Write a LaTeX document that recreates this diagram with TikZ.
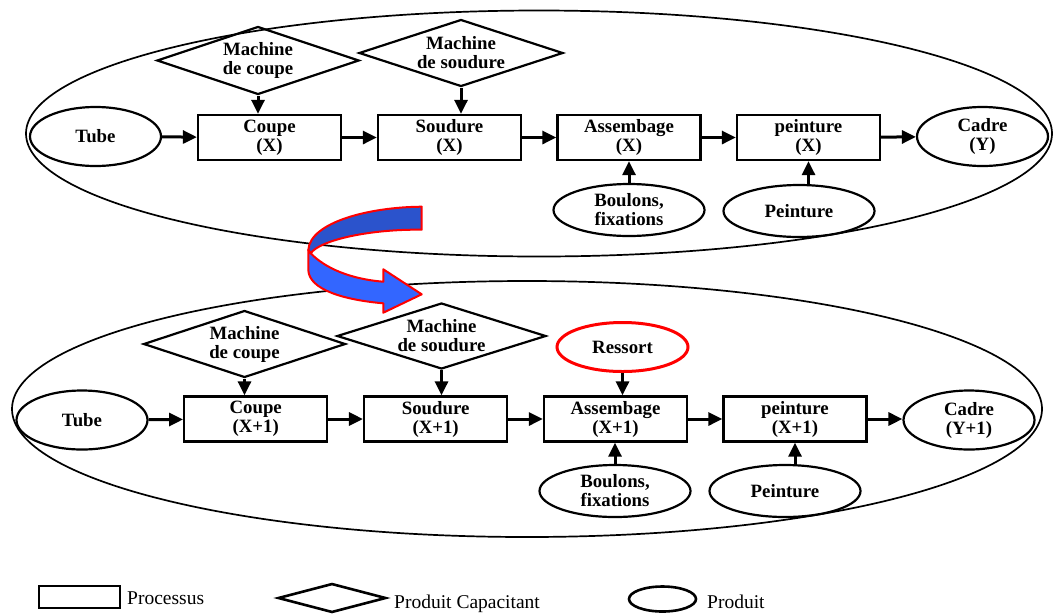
\documentclass[tikz,border=0pt]{standalone}
\usepackage{fontspec}
\setmainfont{Liberation Serif}
\usetikzlibrary{shapes.geometric,arrows.meta}
\definecolor{ribbondark}{RGB}{43,83,204}
\definecolor{ribbonlight}{RGB}{51,102,255}
\definecolor{ribbonedge}{RGB}{255,0,0}
\begin{document}
\begin{tikzpicture}[x=1pt,y=-1pt,
  lbl/.style={font=\bfseries\fontsize{18.8}{19}\selectfont, align=center, inner sep=0pt},
  procbox/.style={lbl, draw, line width=2.3pt, minimum width=143pt, minimum height=45pt},
  prodell/.style={lbl, draw, ellipse, line width=2.2pt, minimum width=131pt, minimum height=59pt},
  inell/.style={lbl, draw, ellipse, line width=2.2pt, minimum width=151pt, minimum height=52pt},
  capdia/.style={lbl, draw, diamond, shape aspect=3, line width=2.2pt},
  conn/.style={line width=3pt, -{Triangle[length=14pt,width=13pt]}},
  group/.style={line width=1.7pt},
  legtxt/.style={font=\fontsize{19.5}{20}\selectfont, inner sep=0pt, anchor=base west},
  legshape/.style={draw, line width=2.6pt, inner sep=0pt}
]
\useasboundingbox (0,0) rectangle (1054,614);

% ---- lot X ----
\draw[group] (539,133.5) ellipse [x radius=513pt, y radius=123pt];

\node[prodell] (tube1) at (95.5,136.5) {Tube};
\node[procbox] (coupe1) at (269.5,137.5) {Coupe\\(X)};
\node[procbox] (soud1) at (449.5,137.5) {Soudure\\(X)};
\node[procbox] (asm1) at (629,137.5) {Assembage\\(X)};
\node[procbox] (peint1) at (808.5,137.5) {peinture\\(X)};
\node[prodell] (cadre1) at (982.5,136.5) {Cadre\\(Y)};

\node[capdia, minimum width=202pt, minimum height=68pt] (mcoupe1) at (258,60.5) {Machine\\de coupe};
\node[capdia, minimum width=204pt, minimum height=67pt] (msoud1) at (461,53) {Machine\\de soudure};

\node[inell] (boul1) at (629,210) {Boulons,\\fixations};
\node[inell] (pt1) at (799,211) {Peinture};

\draw[conn] (tube1) -- (coupe1);
\draw[conn] (coupe1) -- (soud1);
\draw[conn] (soud1) -- (asm1);
\draw[conn] (asm1) -- (peint1);
\draw[conn] (peint1) -- (cadre1);
\draw[conn] (mcoupe1.south) -- (mcoupe1.south |- coupe1.north);
\draw[conn] (msoud1.south) -- (msoud1.south |- soud1.north);
\draw[conn] (boul1.north) -- (asm1.south);
\draw[conn] (peint1.south |- pt1.north) -- (peint1.south);

% ---- lot X+1 ----
\draw[group] (527,409) ellipse [x radius=515pt, y radius=128pt];

\node[prodell] (tube2) at (82,420) {Tube};
\node[procbox] (coupe2) at (255.7,419) {Coupe\\(X+1)};
\node[procbox] (soud2) at (435.6,419) {Soudure\\(X+1)};
\node[procbox] (asm2) at (615.5,419) {Assembage\\(X+1)};
\node[procbox] (peint2) at (795,419) {peinture\\(X+1)};
\node[prodell] (cadre2) at (969,420) {Cadre\\(Y+1)};

\node[capdia, minimum width=202pt, minimum height=67pt] (mcoupe2) at (244.5,344) {Machine\\de coupe};
\node[capdia, minimum width=209pt, minimum height=66pt] (msoud2) at (441.5,336) {Machine\\de soudure};

\node[lbl, draw=red, ellipse, line width=3pt, minimum width=131pt, minimum height=49pt] (ress) at (622.5,347) {Ressort};

\node[inell] (boul2) at (615,491) {Boulons,\\fixations};
\node[inell] (pt2) at (785,491) {Peinture};

\draw[conn] (tube2) -- (coupe2);
\draw[conn] (coupe2) -- (soud2);
\draw[conn] (soud2) -- (asm2);
\draw[conn] (asm2) -- (peint2);
\draw[conn] (peint2.east) -- (peint2.east -| cadre2.west);
\draw[conn] (mcoupe2.south) -- (mcoupe2.south |- coupe2.north);
\draw[conn] (msoud2.south) -- (msoud2.south |- soud2.north);
\draw[conn] (ress.south) -- (ress.south |- asm2.north);
\draw[conn] (boul2.north) -- (boul2.north |- asm2.south);
\draw[conn] (peint2.south |- pt2.north) -- (peint2.south);

% ---- curled transition arrow ----
\begin{scope}[line width=2pt, draw=ribbonedge, line join=round]
  \filldraw[fill=ribbondark] (421.7,206.7) .. controls (370,207) and (310,222) .. (308.3,250)
    -- (310.7,253.3) .. controls (320,240) and (370,229) .. (421.7,229.7) -- cycle;
  \filldraw[fill=ribbonlight] (310.7,253.3) .. controls (325,268) and (350,279) .. (383.3,281.7)
    -- (383.3,269.3) -- (421.7,294.3) -- (383.3,312.7) -- (383.3,303.3)
    .. controls (345,300) and (309,290) .. (308.3,270) -- (308.3,250) -- cycle;
\end{scope}

% ---- legend ----
\node[legshape, minimum width=81pt, minimum height=22pt] (lgproc) at (79.5,597) {};
\node[legtxt] (lgproct) at (127,604) {Processus};
\node[legshape, diamond, minimum width=108pt, minimum height=29pt] (lgcap) at (332,598) {};
\node[legtxt] (lgcapt) at (394,608) {Produit Capacitant};
\node[legshape, ellipse, minimum width=67pt, minimum height=25pt] (lgprod) at (662.5,599) {};
\node[legtxt] (lgprodt) at (707,608) {Produit};
\end{tikzpicture}
\end{document}
